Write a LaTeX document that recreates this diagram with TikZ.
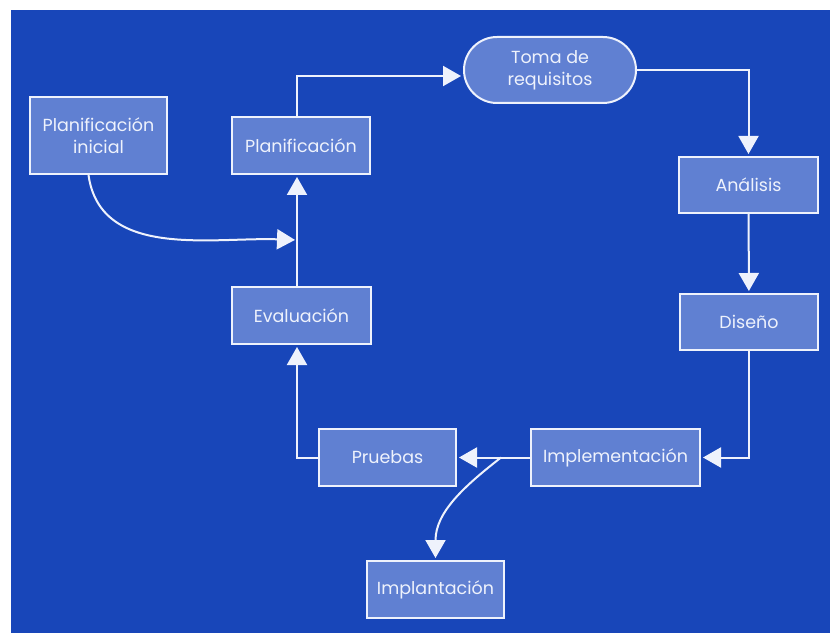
\documentclass[tikz,border=0pt]{standalone}
\usepackage{fontspec}
\setmainfont{Poppins}
\usepackage{tikz}
\usetikzlibrary{arrows.meta}
\definecolor{fondo}{RGB}{24,70,185}
\definecolor{caja}{RGB}{96,128,210}
\definecolor{trazo}{RGB}{238,242,252}

\begin{document}
\begin{tikzpicture}[x=1pt,y=1pt,
    box/.style={draw=trazo,fill=caja,line width=2pt,text=trazo,inner sep=2pt,minimum width=137pt,minimum height=57pt,align=center,font=\fontsize{17.5}{22}\selectfont},
    pill/.style={box,rounded corners=33pt,minimum width=172pt,minimum height=66pt},
    flow/.style={draw=trazo,line width=2pt,-{Triangle[length=18pt,width=20pt]},shorten >=2pt}]
      \useasboundingbox (0,0) rectangle (830,633);
      \fill[fondo] (11,0) rectangle (830,623);
      % boxes
      \node[box,minimum height=77pt](pinicial) at (98.5,497.5){Planificación\\inicial};
      \node[box,minimum width=138pt](plan) at (301,487.5){Planificación};
      \node[pill](toma) at (550,563){Toma de\\requisitos};
      \node[box,minimum width=139pt,minimum height=56pt](analisis) at (748.5,448){Análisis};
      \node[box,minimum width=138pt,minimum height=56pt](diseno) at (749,311){Diseño};
      \node[box,minimum width=169pt](impl) at (615.5,175.5){Implementación};
      \node[box](pruebas) at (387.5,175.5){Pruebas};
      \node[box,minimum width=139pt](eval) at (301.5,317.5){Evaluación};
      \node[box](implant) at (435.5,43.5){Implantación};
      \coordinate (cruce) at (297,393);
      \coordinate (rama) at ([xshift=-29pt]impl.west);
      % arrows
      \draw[flow] ([xshift=-10pt]pinicial.south) to[out=-82,in=178] (cruce);
      \draw[flow] (eval.north -| cruce) -- (plan.south -| cruce);
      \draw[flow] (plan.north -| cruce) |- ([yshift=-6pt]toma.west);
      \draw[flow] (toma.east) -| (analisis.north);
      \draw[flow] (analisis) -- (diseno);
      \draw[flow] (diseno.south) |- (impl.east);
      \draw[flow] (impl.west) -- (pruebas.east);
      \draw[flow] (rama) to[out=218,in=90] (implant.north);
      \draw[flow] (pruebas.west) -| (eval.south -| cruce);
    \end{tikzpicture}
\end{document}
